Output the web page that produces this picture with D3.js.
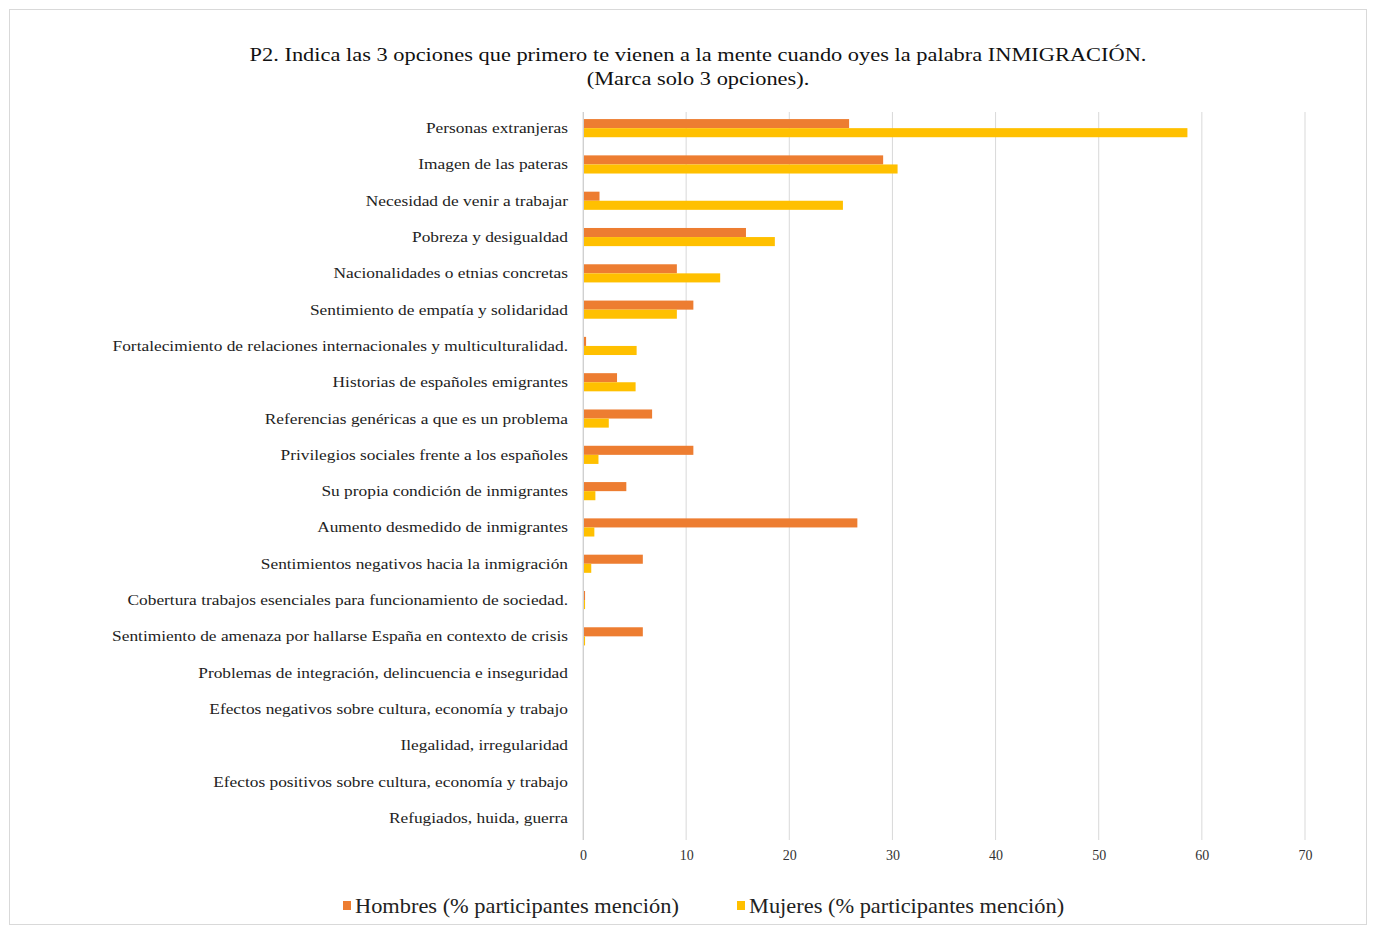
<!DOCTYPE html>
<html><head><meta charset="utf-8">
<script src="https://cdn.jsdelivr.net/npm/d3@7"></script>
<style>body{margin:0;background:#fff}svg{display:block}</style>
</head><body>
<svg id="c" width="1376" height="934"></svg>
<script>
const categories = [
  "Personas extranjeras",
  "Imagen de las pateras",
  "Necesidad de venir a trabajar",
  "Pobreza y desigualdad",
  "Nacionalidades o etnias concretas",
  "Sentimiento de empatía y solidaridad",
  "Fortalecimiento de relaciones internacionales y multiculturalidad.",
  "Historias de españoles emigrantes",
  "Referencias genéricas a que es un problema",
  "Privilegios sociales frente a los españoles",
  "Su propia condición de inmigrantes",
  "Aumento desmedido de inmigrantes",
  "Sentimientos negativos hacia la inmigración",
  "Cobertura trabajos esenciales para funcionamiento de sociedad.",
  "Sentimiento de amenaza por hallarse España en contexto de crisis",
  "Problemas de integración, delincuencia e inseguridad",
  "Efectos negativos sobre cultura, economía y trabajo",
  "Ilegalidad, irregularidad",
  "Efectos positivos sobre cultura, economía y trabajo",
  "Refugiados, huida, guerra"
];
const hombres = [25.8, 29.1, 1.6, 15.8, 9.1, 10.7, 0.3, 3.3, 6.7, 10.7, 4.2, 26.6, 5.8, 0.2, 5.8, 0, 0, 0, 0, 0];
const mujeres = [58.6, 30.5, 25.2, 18.6, 13.3, 9.1, 5.2, 5.1, 2.5, 1.5, 1.2, 1.1, 0.8, 0.2, 0.2, 0, 0, 0, 0, 0];
const seriesNames = ["Hombres (% participantes mención)", "Mujeres (% participantes mención)"];
const xTicks = [0, 10, 20, 30, 40, 50, 60, 70];
const titleLines = ["P2. Indica las 3 opciones que primero te vienen a la mente cuando oyes la palabra INMIGRACIÓN.", "(Marca solo 3 opciones)."];

const colors = ["#ED7D31", "#FFC000"];
const svg = d3.select("#c");
const serif = "'Liberation Serif','Times New Roman',serif";

svg.append("rect").attr("x", 9.5).attr("y", 9.5).attr("width", 1357).attr("height", 915)
  .attr("fill", "#fff").attr("stroke", "#d9d9d9");

const pLeft = 583, pRight = 1305, pTop = 110, pBottom = 836;
const x = d3.scaleLinear().domain([0, 70]).range([pLeft, pRight]);
const y = d3.scaleBand().domain(categories).range([pTop, pBottom]).paddingInner(0.5).paddingOuter(0.25);

// title (text in the reference is horizontally stretched)
svg.append("g").selectAll("text").data(titleLines).join("text")
  .attr("transform", (d, i) => `translate(698,${61 + i * 24}) scale(1.245,1)`)
  .attr("text-anchor", "middle").attr("font-family", serif).attr("font-size", 18).attr("fill", "#111")
  .text(d => d);

// gridlines
svg.append("g").selectAll("line").data(xTicks).join("line")
  .attr("x1", d => x(d)).attr("x2", d => x(d)).attr("y1", pTop + 2).attr("y2", 840)
  .attr("stroke", "#d9d9d9").attr("stroke-width", 1);

// bars
const bh = y.bandwidth() / 2;
const g = svg.append("g");
g.selectAll("rect.h").data(hombres).join("rect").attr("class", "h")
  .attr("x", x(0)).attr("y", (d, i) => y(categories[i]))
  .attr("width", d => x(d) - x(0)).attr("height", bh).attr("fill", colors[0]);
g.selectAll("rect.m").data(mujeres).join("rect").attr("class", "m")
  .attr("x", x(0)).attr("y", (d, i) => y(categories[i]) + bh)
  .attr("width", d => x(d) - x(0)).attr("height", bh).attr("fill", colors[1]);

// y axis line
svg.append("line").attr("x1", x(0) + 0.5).attr("x2", x(0) + 0.5).attr("y1", pTop + 2).attr("y2", 840)
  .attr("stroke", "#d0d0d0");

// category labels
svg.append("g").selectAll("text").data(categories).join("text")
  .attr("transform", d => `translate(568,${y(d) + y.bandwidth() / 2 + 5}) scale(1.24,1)`)
  .attr("text-anchor", "end").attr("font-family", serif).attr("font-size", 14).attr("fill", "#222")
  .text(d => d);

// x axis
const xa = svg.append("g").attr("transform", `translate(0,${842})`)
  .call(d3.axisBottom(x).tickValues(xTicks).tickSize(0).tickPadding(8));
xa.select(".domain").remove();
xa.selectAll("text").attr("font-family", serif).attr("font-size", 14).attr("fill", "#333");

// legend
const legX = [343, 737];
const lg = svg.append("g").selectAll("g").data(seriesNames).join("g")
  .attr("transform", (d, i) => `translate(${legX[i]},906)`);
lg.append("rect").attr("x", 0).attr("y", -5).attr("width", 8).attr("height", 9).attr("fill", (d, i) => colors[i]);
lg.append("text").attr("transform", "translate(12,0) scale(1.12,1)").attr("dy", "0.35em")
  .attr("font-family", serif).attr("font-size", 20).attr("fill", "#222").text(d => d);
</script>
</body></html>
